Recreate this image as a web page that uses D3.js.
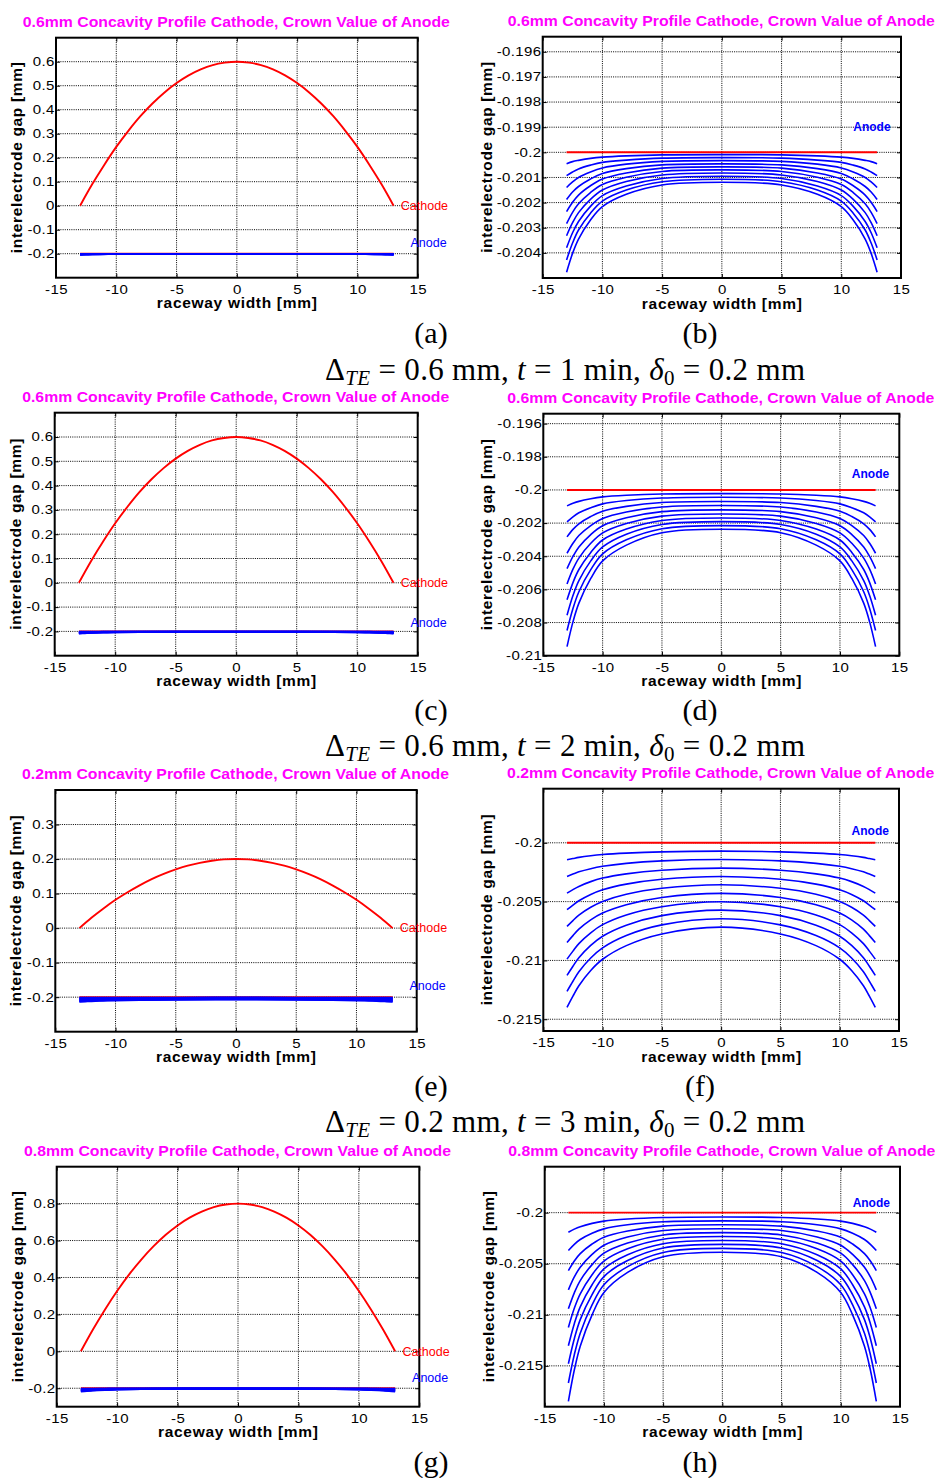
<!DOCTYPE html>
<html>
<head>
<meta charset="utf-8">
<script src="https://cdn.jsdelivr.net/npm/d3@7"></script>
<style>
  html, body { margin: 0; padding: 0; background: #fff; }
  svg { display: block; }
</style>
</head>
<body>
<svg id="fig" width="940" height="1478"></svg>
<script>
// ---------------------------------------------------------------------------
// Data
// ---------------------------------------------------------------------------
const xTicks = [-15, -10, -5, 0, 5, 10, 15];

// Cathode concavity profiles (mm) sampled across the raceway width
const cathodeX = [-13, -12, -11, -10, -9, -8, -7, -6, -5, -4, -3, -2, -1, 0,
                  1, 2, 3, 4, 5, 6, 7, 8, 9, 10, 11, 12, 13];
const cathode06 = [0, 0.089, 0.170, 0.245, 0.312, 0.373, 0.426, 0.472, 0.511, 0.543, 0.568, 0.586, 0.596, 0.6,
                   0.596, 0.586, 0.568, 0.543, 0.511, 0.472, 0.426, 0.373, 0.312, 0.245, 0.170, 0.089, 0];
const cathode02 = [0, 0.030, 0.057, 0.082, 0.104, 0.124, 0.142, 0.157, 0.170, 0.181, 0.189, 0.195, 0.199, 0.2,
                   0.199, 0.195, 0.189, 0.181, 0.170, 0.157, 0.142, 0.124, 0.104, 0.082, 0.057, 0.030, 0];
const cathode08 = [0, 0.118, 0.227, 0.327, 0.417, 0.497, 0.568, 0.630, 0.682, 0.724, 0.757, 0.781, 0.795, 0.8,
                   0.795, 0.781, 0.757, 0.724, 0.682, 0.630, 0.568, 0.497, 0.417, 0.327, 0.227, 0.118, 0];

// Initial (flat) anode surface
const initialAnodeX = [-13, 13];
const initialAnode = [-0.2, -0.2];

// Anode crown evolution, ten profiles per case
const anodeX = [-13, -12.5, -12, -11, -10, -8, -5, 0, 5, 8, 10, 11, 12, 12.5, 13];

const anodeT1 = [
  [-0.20045, -0.20037, -0.20032, -0.20024, -0.20019, -0.20014, -0.20010, -0.20009, -0.20010, -0.20014, -0.20019, -0.20024, -0.20032, -0.20037, -0.20045],
  [-0.20093, -0.20078, -0.20066, -0.20051, -0.20040, -0.20031, -0.20023, -0.20021, -0.20023, -0.20031, -0.20040, -0.20051, -0.20066, -0.20078, -0.20093],
  [-0.20140, -0.20118, -0.20100, -0.20078, -0.20062, -0.20047, -0.20036, -0.20033, -0.20036, -0.20047, -0.20062, -0.20078, -0.20100, -0.20118, -0.20140],
  [-0.20188, -0.20158, -0.20136, -0.20106, -0.20084, -0.20065, -0.20050, -0.20046, -0.20050, -0.20065, -0.20084, -0.20106, -0.20136, -0.20158, -0.20188],
  [-0.20236, -0.20199, -0.20170, -0.20133, -0.20106, -0.20082, -0.20063, -0.20058, -0.20063, -0.20082, -0.20106, -0.20133, -0.20170, -0.20199, -0.20236],
  [-0.20284, -0.20239, -0.20205, -0.20160, -0.20128, -0.20099, -0.20076, -0.20070, -0.20076, -0.20099, -0.20128, -0.20160, -0.20205, -0.20239, -0.20284],
  [-0.20332, -0.20280, -0.20240, -0.20187, -0.20150, -0.20116, -0.20090, -0.20082, -0.20090, -0.20116, -0.20150, -0.20187, -0.20240, -0.20280, -0.20332],
  [-0.20380, -0.20320, -0.20275, -0.20215, -0.20172, -0.20134, -0.20104, -0.20095, -0.20104, -0.20134, -0.20172, -0.20215, -0.20275, -0.20320, -0.20380],
  [-0.20428, -0.20361, -0.20309, -0.20242, -0.20194, -0.20150, -0.20117, -0.20107, -0.20117, -0.20150, -0.20194, -0.20242, -0.20309, -0.20361, -0.20428],
  [-0.20477, -0.20402, -0.20345, -0.20269, -0.20216, -0.20167, -0.20130, -0.20119, -0.20130, -0.20167, -0.20216, -0.20269, -0.20345, -0.20402, -0.20477]
];

const anodeT2 = [
  [-0.20096, -0.20081, -0.20069, -0.20053, -0.20042, -0.20032, -0.20024, -0.20022, -0.20024, -0.20032, -0.20042, -0.20053, -0.20069, -0.20081, -0.20096],
  [-0.20193, -0.20162, -0.20138, -0.20107, -0.20084, -0.20064, -0.20049, -0.20044, -0.20049, -0.20064, -0.20084, -0.20107, -0.20138, -0.20162, -0.20193],
  [-0.20283, -0.20238, -0.20204, -0.20160, -0.20128, -0.20099, -0.20076, -0.20070, -0.20076, -0.20099, -0.20128, -0.20160, -0.20204, -0.20238, -0.20283],
  [-0.20382, -0.20322, -0.20275, -0.20215, -0.20172, -0.20133, -0.20103, -0.20094, -0.20103, -0.20133, -0.20172, -0.20215, -0.20275, -0.20322, -0.20382],
  [-0.20475, -0.20401, -0.20344, -0.20269, -0.20216, -0.20168, -0.20131, -0.20120, -0.20131, -0.20168, -0.20216, -0.20269, -0.20344, -0.20401, -0.20475],
  [-0.20567, -0.20478, -0.20411, -0.20322, -0.20259, -0.20202, -0.20158, -0.20145, -0.20158, -0.20202, -0.20259, -0.20322, -0.20411, -0.20478, -0.20567],
  [-0.20663, -0.20559, -0.20480, -0.20377, -0.20302, -0.20236, -0.20184, -0.20169, -0.20184, -0.20236, -0.20302, -0.20377, -0.20480, -0.20559, -0.20663],
  [-0.20756, -0.20637, -0.20547, -0.20428, -0.20344, -0.20267, -0.20208, -0.20191, -0.20208, -0.20267, -0.20344, -0.20428, -0.20547, -0.20637, -0.20756],
  [-0.20848, -0.20715, -0.20614, -0.20481, -0.20386, -0.20301, -0.20234, -0.20215, -0.20234, -0.20301, -0.20386, -0.20481, -0.20614, -0.20715, -0.20848],
  [-0.20945, -0.20796, -0.20683, -0.20534, -0.20428, -0.20333, -0.20258, -0.20237, -0.20258, -0.20333, -0.20428, -0.20534, -0.20683, -0.20796, -0.20945]
];

const anodeT3 = [
  [-0.20144, -0.20134, -0.20124, -0.20110, -0.20100, -0.20088, -0.20077, -0.20071, -0.20077, -0.20088, -0.20100, -0.20110, -0.20124, -0.20134, -0.20144],
  [-0.20286, -0.20266, -0.20247, -0.20220, -0.20200, -0.20175, -0.20154, -0.20142, -0.20154, -0.20175, -0.20200, -0.20220, -0.20247, -0.20266, -0.20286],
  [-0.20428, -0.20398, -0.20371, -0.20330, -0.20300, -0.20264, -0.20233, -0.20215, -0.20233, -0.20264, -0.20300, -0.20330, -0.20371, -0.20398, -0.20428],
  [-0.20569, -0.20529, -0.20493, -0.20439, -0.20399, -0.20351, -0.20310, -0.20286, -0.20310, -0.20351, -0.20399, -0.20439, -0.20493, -0.20529, -0.20569],
  [-0.20711, -0.20661, -0.20615, -0.20548, -0.20499, -0.20438, -0.20387, -0.20357, -0.20387, -0.20438, -0.20499, -0.20548, -0.20615, -0.20661, -0.20711],
  [-0.20847, -0.20789, -0.20734, -0.20655, -0.20597, -0.20526, -0.20465, -0.20430, -0.20465, -0.20526, -0.20597, -0.20655, -0.20734, -0.20789, -0.20847],
  [-0.20989, -0.20921, -0.20857, -0.20765, -0.20696, -0.20613, -0.20543, -0.20501, -0.20543, -0.20613, -0.20696, -0.20765, -0.20857, -0.20921, -0.20989],
  [-0.21127, -0.21049, -0.20977, -0.20872, -0.20794, -0.20700, -0.20619, -0.20572, -0.20619, -0.20700, -0.20794, -0.20872, -0.20977, -0.21049, -0.21127],
  [-0.21263, -0.21177, -0.21096, -0.20979, -0.20893, -0.20788, -0.20698, -0.20646, -0.20698, -0.20788, -0.20893, -0.20979, -0.21096, -0.21177, -0.21263],
  [-0.21399, -0.21304, -0.21215, -0.21085, -0.20990, -0.20874, -0.20775, -0.20717, -0.20775, -0.20874, -0.20990, -0.21085, -0.21215, -0.21304, -0.21399]
];

const anodeT4 = [
  [-0.20192, -0.20161, -0.20137, -0.20105, -0.20083, -0.20062, -0.20047, -0.20042, -0.20047, -0.20062, -0.20083, -0.20105, -0.20137, -0.20161, -0.20192],
  [-0.20371, -0.20310, -0.20263, -0.20202, -0.20159, -0.20119, -0.20089, -0.20080, -0.20089, -0.20119, -0.20159, -0.20202, -0.20263, -0.20310, -0.20371],
  [-0.20567, -0.20473, -0.20401, -0.20307, -0.20240, -0.20180, -0.20132, -0.20119, -0.20132, -0.20180, -0.20240, -0.20307, -0.20401, -0.20473, -0.20567],
  [-0.20756, -0.20630, -0.20534, -0.20409, -0.20319, -0.20238, -0.20175, -0.20157, -0.20175, -0.20238, -0.20319, -0.20409, -0.20534, -0.20630, -0.20756],
  [-0.20941, -0.20785, -0.20665, -0.20509, -0.20397, -0.20297, -0.20218, -0.20196, -0.20218, -0.20297, -0.20397, -0.20509, -0.20665, -0.20785, -0.20941],
  [-0.21124, -0.20937, -0.20795, -0.20608, -0.20474, -0.20354, -0.20261, -0.20234, -0.20261, -0.20354, -0.20474, -0.20608, -0.20795, -0.20937, -0.21124],
  [-0.21303, -0.21087, -0.20922, -0.20706, -0.20551, -0.20412, -0.20304, -0.20273, -0.20304, -0.20412, -0.20551, -0.20706, -0.20922, -0.21087, -0.21303],
  [-0.21479, -0.21234, -0.21047, -0.20802, -0.20626, -0.20469, -0.20346, -0.20311, -0.20346, -0.20469, -0.20626, -0.20802, -0.21047, -0.21234, -0.21479],
  [-0.21668, -0.21391, -0.21180, -0.20904, -0.20706, -0.20528, -0.20390, -0.20350, -0.20390, -0.20528, -0.20706, -0.20904, -0.21180, -0.21391, -0.21668],
  [-0.21847, -0.21541, -0.21307, -0.21001, -0.20782, -0.20585, -0.20432, -0.20388, -0.20432, -0.20585, -0.20782, -0.21001, -0.21307, -0.21541, -0.21847]
];

// Axis tick values
const yTicksFull06 = [-0.2, -0.1, 0, 0.1, 0.2, 0.3, 0.4, 0.5, 0.6];
const yTicksFull02 = [-0.2, -0.1, 0, 0.1, 0.2, 0.3];
const yTicksFull08 = [-0.2, 0, 0.2, 0.4, 0.6, 0.8];
const yTicksZoom1 = [-0.204, -0.203, -0.202, -0.201, -0.2, -0.199, -0.198, -0.197, -0.196];
const yTicksZoom2 = [-0.21, -0.208, -0.206, -0.204, -0.202, -0.2, -0.198, -0.196];
const yTicksZoom3 = [-0.215, -0.21, -0.205, -0.2];
const yTicksZoom4 = [-0.215, -0.21, -0.205, -0.2];

// Text
const titles = [
  "0.6mm Concavity Profile Cathode, Crown Value of Anode",
  "0.6mm Concavity Profile Cathode, Crown Value of Anode",
  "0.2mm Concavity Profile Cathode, Crown Value of Anode",
  "0.8mm Concavity Profile Cathode, Crown Value of Anode"
];
const panelLetters = [["(a)", "(b)"], ["(c)", "(d)"], ["(e)", "(f)"], ["(g)", "(h)"]];
const captionDeltaTE = ["0.6", "0.6", "0.2"];
const captionTime = ["1", "2", "3"];
const captionDelta0 = ["0.2", "0.2", "0.2"];
const xLabel = "raceway width [mm]";
const yLabel = "interelectrode gap [mm]";

// ---------------------------------------------------------------------------
// Layout
// ---------------------------------------------------------------------------
const rows = [
  { cathode: cathode06, anode: anodeT1,
    left:  { L: 56,    R: 417.7, T: 37.7,   B: 277.7,  dom: [-0.3, 0.7],       ticks: yTicksFull06, anodeLabelY: -0.152 },
    right: { L: 542.7, R: 901,   T: 36.7,   B: 278,    dom: [-0.205, -0.1954], ticks: yTicksZoom1 },
    letterY: 342.5, captionY: 380 },
  { cathode: cathode06, anode: anodeT2,
    left:  { L: 54.7,  R: 417.7, T: 412.7,  B: 655.7,  dom: [-0.3, 0.7],       ticks: yTicksFull06, anodeLabelY: -0.163 },
    right: { L: 543.3, R: 899.3, T: 413.7,  B: 655.7,  dom: [-0.21, -0.1954],  ticks: yTicksZoom2 },
    letterY: 719.5, captionY: 756 },
  { cathode: cathode02, anode: anodeT3,
    left:  { L: 55.3,  R: 416.7, T: 790,    B: 1031.7, dom: [-0.3, 0.4],       ticks: yTicksFull02, anodeLabelY: -0.166 },
    right: { L: 543.3, R: 899,   T: 788.7,  B: 1031,   dom: [-0.216, -0.1954], ticks: yTicksZoom3 },
    letterY: 1096, captionY: 1132 },
  { cathode: cathode08, anode: anodeT4,
    left:  { L: 56.7,  R: 419.3, T: 1166.7, B: 1406.7, dom: [-0.3, 1.0],       ticks: yTicksFull08, anodeLabelY: -0.144 },
    right: { L: 544.7, R: 900,   T: 1166.7, B: 1406.7, dom: [-0.219, -0.1955], ticks: yTicksZoom4 },
    letterY: 1471.5, captionY: null }
];

const SANS = "'Liberation Sans', Arial, Helvetica, sans-serif";
const SERIF = "'Liberation Serif', 'Times New Roman', serif";
const RED = "#ff0000", BLUE = "#0000ff", MAGENTA = "#ff00ff";
const TICK_STRETCH = 1.25;   // tick labels are set wide
const TITLE_STRETCH = 1.13;

const svg = d3.select("#fig");
svg.append("rect").attr("width", 940).attr("height", 1478).attr("fill", "#fff");
const defs = svg.append("defs");

let clipCount = 0;

function drawPanel(p, row, rowIndex, isZoom) {
  const x = d3.scaleLinear().domain([-15, 15]).range([p.L, p.R]);
  const y = d3.scaleLinear().domain(p.dom).range([p.B, p.T]);
  const g = svg.append("g");

  const clipId = "plotclip" + (clipCount++);
  defs.append("clipPath").attr("id", clipId)
    .append("rect").attr("x", p.L).attr("y", p.T)
    .attr("width", p.R - p.L).attr("height", p.B - p.T);

  // dotted grid
  const grid = g.append("g").attr("stroke", "#000").attr("stroke-width", 1)
    .attr("stroke-dasharray", "1,1.2").attr("fill", "none");
  grid.selectAll("line.gx").data(xTicks.filter(t => t > -15 && t < 15)).join("line")
    .attr("class", "gx")
    .attr("x1", d => x(d)).attr("x2", d => x(d))
    .attr("y1", p.T).attr("y2", p.B);
  grid.selectAll("line.gy").data(p.ticks.filter(t => y(t) > p.T + 0.5 && y(t) < p.B - 0.5)).join("line")
    .attr("class", "gy")
    .attr("x1", p.L).attr("x2", p.R)
    .attr("y1", d => y(d)).attr("y2", d => y(d));

  // axes with inward ticks on all four sides
  const fmt = d => String(d);
  const axB = g.append("g").attr("transform", `translate(0,${p.B})`)
    .call(d3.axisBottom(x).tickValues(xTicks).tickSizeInner(-4).tickSizeOuter(0).tickPadding(7.3).tickFormat(fmt));
  const axL = g.append("g").attr("transform", `translate(${p.L},0)`)
    .call(d3.axisLeft(y).tickValues(p.ticks).tickSizeInner(-4).tickSizeOuter(0).tickPadding(1.2).tickFormat(fmt));
  const axT = g.append("g").attr("transform", `translate(0,${p.T})`)
    .call(d3.axisTop(x).tickValues(xTicks).tickSizeInner(-4).tickSizeOuter(0).tickFormat(""));
  const axR = g.append("g").attr("transform", `translate(${p.R},0)`)
    .call(d3.axisRight(y).tickValues(p.ticks).tickSizeInner(-4).tickSizeOuter(0).tickFormat(""));
  [axB, axL, axT, axR].forEach(a => {
    a.select(".domain").remove();
    a.selectAll(".tick line").attr("stroke", "#000").attr("stroke-width", 1);
  });
  [axB, axL].forEach(a => {
    a.selectAll(".tick text")
      .attr("fill", "#000")
      .attr("transform", `scale(${TICK_STRETCH},1)`)
      .style("font-family", SANS)
      .style("font-size", "12px")
      .style("letter-spacing", "0.3px");
  });
  axL.selectAll(".tick text").attr("x", -1.2 / TICK_STRETCH);

  // curves
  const line = d3.line().x(d => x(d[0])).y(d => y(d[1])).curve(d3.curveCatmullRom.alpha(0.5));
  const plot = g.append("g").attr("clip-path", `url(#${clipId})`).attr("fill", "none");
  plot.append("path")
    .attr("d", line(cathodeX.map((v, i) => [v, row.cathode[i]])))
    .attr("stroke", RED).attr("stroke-width", 1.9).attr("stroke-linejoin", "round");
  plot.append("path")
    .attr("d", line(initialAnodeX.map((v, i) => [v, initialAnode[i]])))
    .attr("stroke", RED).attr("stroke-width", 1.9);
  plot.selectAll("path.anode").data(row.anode).join("path")
    .attr("class", "anode")
    .attr("d", s => line(anodeX.map((v, i) => [v, s[i]])))
    .attr("stroke", BLUE).attr("stroke-width", 1.6).attr("stroke-linejoin", "round");

  // frame
  g.append("rect").attr("x", p.L).attr("y", p.T)
    .attr("width", p.R - p.L).attr("height", p.B - p.T)
    .attr("fill", "none").attr("stroke", "#000").attr("stroke-width", 2);

  // in-plot labels
  if (!isZoom) {
    g.append("text").attr("x", x(13.6)).attr("y", y(0)).attr("dy", "0.35em")
      .attr("fill", RED).style("font-family", SANS).style("font-size", "12.5px")
      .text("Cathode");
    g.append("text").attr("x", x(14.4)).attr("y", y(p.anodeLabelY)).attr("dy", "0.35em")
      .attr("fill", BLUE).style("font-family", SANS).style("font-size", "12.5px")
      .text("Anode");
  } else {
    g.append("text").attr("x", x(11)).attr("y", y(-0.199)).attr("dy", "0.35em")
      .attr("fill", BLUE).style("font-family", SANS).style("font-size", "12px")
      .style("font-weight", "bold").text("Anode");
  }

  // title
  g.append("text")
    .attr("transform", `translate(${(p.L + p.R) / 2 - 0.5},${p.T - 11}) scale(${TITLE_STRETCH},1)`)
    .attr("text-anchor", "middle").attr("fill", MAGENTA)
    .style("font-family", SANS).style("font-size", "14px").style("font-weight", "bold")
    .text(titles[rowIndex]);

  // axis labels
  g.append("text").attr("x", (p.L + p.R) / 2).attr("y", p.B + 30.5)
    .attr("text-anchor", "middle").attr("fill", "#000")
    .style("font-family", SANS).style("font-size", "15.5px").style("font-weight", "bold")
    .attr("textLength", 160).attr("lengthAdjust", "spacing")
    .text(xLabel);
  const yl = isZoom ? p.L - 51 : p.L - 34;
  g.append("text")
    .attr("transform", `translate(${yl},${(p.T + p.B) / 2}) rotate(-90)`)
    .attr("text-anchor", "middle").attr("fill", "#000")
    .style("font-family", SANS).style("font-size", "15.5px").style("font-weight", "bold")
    .attr("textLength", 191).attr("lengthAdjust", "spacing")
    .text(yLabel);
}

rows.forEach((row, ri) => {
  drawPanel(row.left, row, ri, false);
  drawPanel(row.right, row, ri, true);

  // panel letters
  svg.append("text").attr("x", 431).attr("y", row.letterY).attr("text-anchor", "middle")
    .style("font-family", SERIF).style("font-size", "30px").text(panelLetters[ri][0]);
  svg.append("text").attr("x", 700).attr("y", row.letterY).attr("text-anchor", "middle")
    .style("font-family", SERIF).style("font-size", "30px").text(panelLetters[ri][1]);

  // case caption
  if (row.captionY !== null) {
    const t = svg.append("text").attr("x", 565).attr("y", row.captionY)
      .attr("text-anchor", "middle").attr("fill", "#000")
      .style("font-family", SERIF).style("font-size", "31px");
    t.append("tspan").text("\u0394");
    t.append("tspan").attr("dy", 5).style("font-style", "italic").style("font-size", "21px").text("TE");
    t.append("tspan").attr("dy", -5).text(` = ${captionDeltaTE[ri]} mm, `);
    t.append("tspan").style("font-style", "italic").text("t");
    t.append("tspan").text(` = ${captionTime[ri]} min, `);
    t.append("tspan").style("font-style", "italic").text("\u03b4");
    t.append("tspan").attr("dy", 5).style("font-size", "21px").text("0");
    t.append("tspan").attr("dy", -5).text(` = ${captionDelta0[ri]} mm`);
    t.attr("textLength", 480).attr("lengthAdjust", "spacing");
  }
});
</script>
</body>
</html>
